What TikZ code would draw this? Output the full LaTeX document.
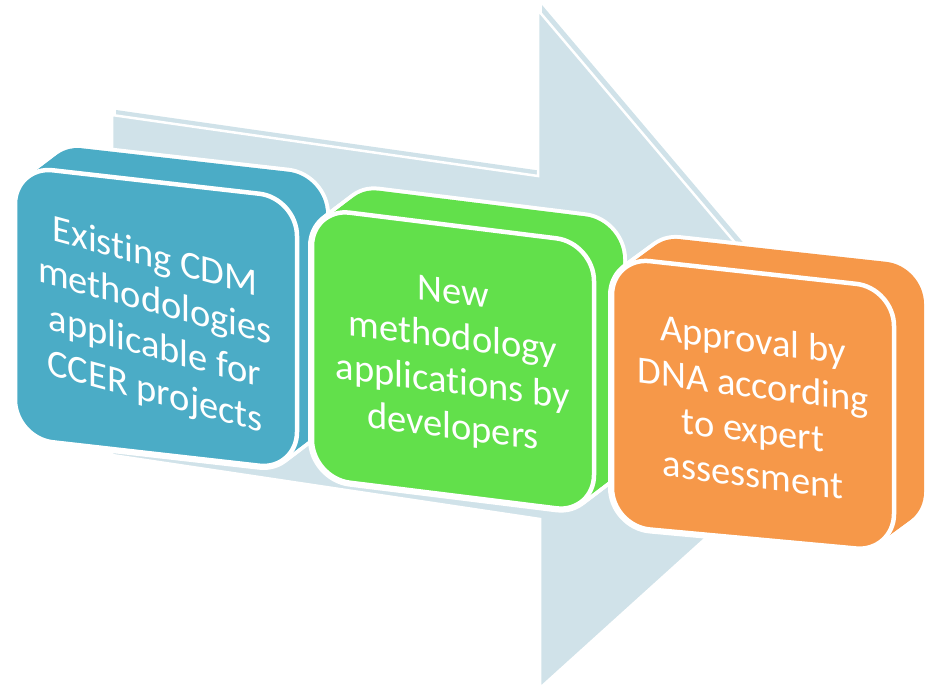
\documentclass[tikz,border=0pt]{standalone}
\usepackage{fontspec}
\setmainfont{Carlito}[Ligatures=NoCommon]
\definecolor{arrowc}{HTML}{D0E2E9}
\definecolor{bluec}{HTML}{4BACC6}
\definecolor{greenc}{HTML}{62E04B}
\definecolor{orangec}{HTML}{F69849}
\def\arrowpath{(112,115) -- (538,176) -- (538,10) -- (864,395) -- (540,688) -- (540,519) -- (112,455) -- cycle}
\def\bluepath{(15,166) -- (297,198) -- (297,470) -- (15,438) -- cycle}
\def\greenpath{(312,208) -- (594,243) -- (594,513) -- (312,478) -- cycle}
\def\orangepath{(612,257) -- (894,288) -- (894,552) -- (612,526) -- cycle}
\begin{document}
\begin{tikzpicture}[x=1pt,y=-1pt,
  halo/.style={draw=white, line width=8pt, rounded corners=38pt, line join=round},
  sweep/.style={rounded corners=38pt},
  frontface/.style={draw=white, line width=4.5pt, rounded corners=38pt},
  boxtext/.style={text=white, font=\fontsize{38.5}{45}\selectfont, align=center, inner sep=0pt, yslant=-0.13}]
\useasboundingbox (0,0) rectangle (934,692);
% big background arrow
\begin{scope}[shift={(4,-5)}]
  \fill[arrowc] \arrowpath;
\end{scope}
\filldraw[fill=arrowc, draw=white, line width=2.5pt] \arrowpath;
% blue box
\foreach \t in {0,0.125,...,1.01}{\draw[halo, shift={(29*\t,-22*\t)}] \bluepath;}
\foreach \t in {0,0.125,...,1.01}{\fill[bluec, sweep, shift={(29*\t,-22*\t)}] \bluepath;}
\filldraw[frontface, fill=bluec] \bluepath;
\node[boxtext, yslant=-0.14] (t1) at (155,326) {Existing CDM\\methodologies\\applicable for\\CCER projects};
% green box
\foreach \t in {0,0.125,...,1.01}{\draw[halo, shift={(29*\t,-22*\t)}] \greenpath;}
\foreach \t in {0,0.125,...,1.01}{\fill[greenc, sweep, shift={(29*\t,-22*\t)}] \greenpath;}
\filldraw[frontface, fill=greenc] \greenpath;
\node[boxtext] (t2) at (453,362) {New\\methodology\\applications by\\developers};
% orange box
\foreach \t in {0,0.125,...,1.01}{\draw[halo, shift={(30*\t,-22*\t)}] \orangepath;}
\foreach \t in {0,0.125,...,1.01}{\fill[orangec, sweep, shift={(30*\t,-22*\t)}] \orangepath;}
\filldraw[frontface, fill=orangec] \orangepath;
\node[boxtext] (t3) at (753,407) {Approval by\\DNA according\\to expert\\assessment};
\end{tikzpicture}
\end{document}
